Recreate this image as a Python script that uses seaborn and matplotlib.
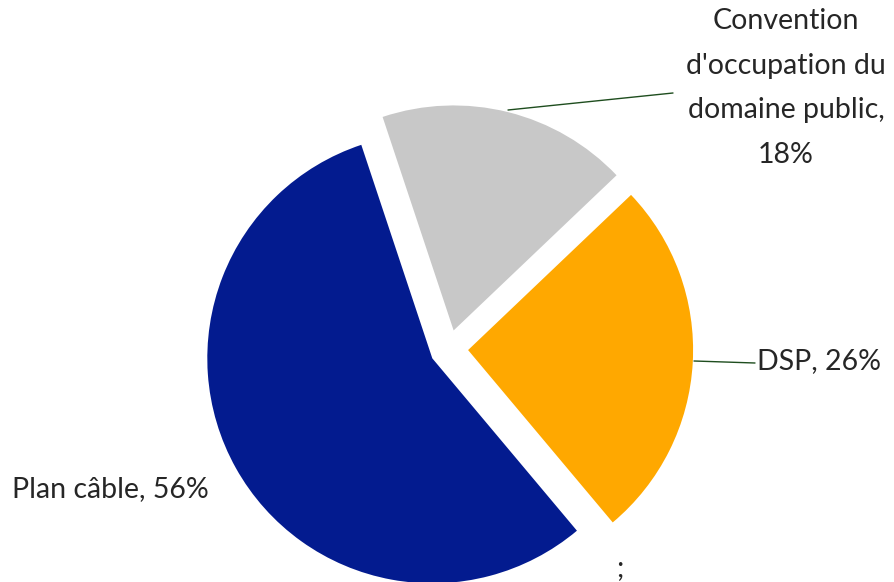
import matplotlib
matplotlib.use("Agg")
import matplotlib.pyplot as plt
import seaborn as sns

sns.set_theme(style="white")
plt.rcParams['font.family'] = ['Lato', 'DejaVu Sans']

categories = ["Convention d'occupation du domaine public", "DSP", "Plan câble"]
values = [18, 26, 56]
label_texts = ["Convention\nd'occupation du\ndomaine public,\n18%", "DSP, 26%", "Plan câble, 56%"]
colors = ["#C8C8C8", "#FFA800", "#031B8F"]

W, H = 895, 582
fig = plt.figure(figsize=(W / 100, H / 100), dpi=100)
ax = fig.add_axes([0, 0, 1, 1])
scale = 225.0
cx, cy = 449.0, 349.0

ax.pie(values, colors=colors, startangle=108.4, counterclock=False,
       explode=[0.085] * 3, radius=1.0, wedgeprops=dict(linewidth=0))
ax.set_xlim(-cx / scale, (W - cx) / scale)
ax.set_ylim(-(H - cy) / scale, cy / scale)
ax.set_aspect('equal')
ax.axis('off')

def p(x, y):
    return ((x - cx) / scale, (cy - y) / scale)

txtc = "#262626"
linec = "#1E4D1E"
fs = 20.5

# leader lines
ax.plot(*zip(p(508, 110), p(673, 93)), color=linec, lw=1)
ax.plot(*zip(p(694, 361), p(755, 363)), color=linec, lw=1)

ax.text(*p(786, 88), label_texts[0], ha='center', va='center', fontsize=fs,
        color=txtc, linespacing=1.9)
ax.text(*p(757, 361), label_texts[1], ha='left', va='center', fontsize=fs, color=txtc)
ax.text(*p(12, 489), label_texts[2], ha='left', va='center', fontsize=fs, color=txtc)
ax.text(*p(620, 568), ";", ha='center', va='center', fontsize=fs, color=txtc)

fig.savefig("out.png", dpi=100)
